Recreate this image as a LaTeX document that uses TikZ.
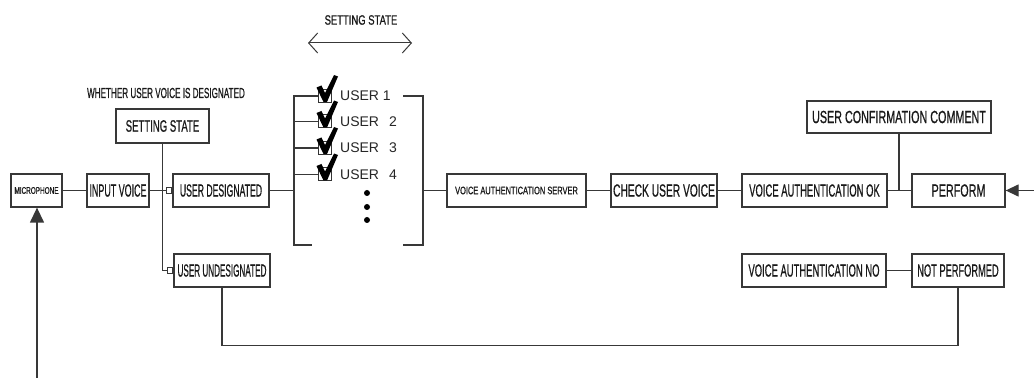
\documentclass[tikz,border=0pt]{standalone}
\usepackage{fontspec}
\setmainfont[FakeBold=0.9]{Liberation Sans}
\newfontfamily\userfont{Liberation Sans}
\usetikzlibrary{arrows.meta}

% condensed caption text: \sqz{horizontal scale}{size}{text}
\newcommand{\sqz}[3]{\scalebox{#1}[1]{\fontsize{#2}{#2}\selectfont #3}}

\begin{document}
\begin{tikzpicture}[x=1pt,y=-1pt,
  line/.style={draw=black!78, line width=1.3pt},
  blk/.style={line, fill=white, inner sep=0pt, text=black!90},
  mk/.style={draw=black!78, line width=0.9pt, fill=white, inner sep=0pt,
             minimum width=5pt, minimum height=6pt, anchor=east},
  cbox/.style={draw=black!80, line width=1pt, fill=white, inner sep=0pt,
               minimum size=13pt},
  usr/.style={anchor=west, inner sep=0pt, text=black!85,
              font=\userfont\fontsize{14}{14}\selectfont},
  dot/.style={circle, fill=black, inner sep=0pt, minimum size=6pt},
  lbl/.style={inner sep=0pt, text=black!90},
  chkmark/.pic={\fill[black] (-8,-8.5) -- (-3,-10.5) -- (0.5,-3) -- (9.5,-21)
                -- (13.5,-19.5) -- (2.5,6) -- (-1,6) -- cycle;}
]
\useasboundingbox (0,0) rectangle (1034,379);

% captions above the chart
\node[lbl] (ss) at (361,20) {\sqz{0.70}{13.5}{SETTING STATE}};
\coordinate (al) at (308,43);
\coordinate (ar) at (412,43);
\draw[draw=black!78, line width=1pt,
  {Straight Barb[length=9pt,width=20pt]}-{Straight Barb[length=9pt,width=20pt]}] (al) -- (ar);
\node[lbl] (wh) at (166,93) {\sqz{0.56}{14.5}{WHETHER USER VOICE IS DESIGNATED}};

% blocks
\node[blk, minimum width=51pt, minimum height=33pt] (mic) at (36.5,190.5) {\sqz{0.66}{9.7}{MICROPHONE}};
\node[blk, minimum width=62pt, minimum height=33pt] (inp) at (118,190.5) {\sqz{0.51}{17.5}{INPUT VOICE}};
\node[blk, minimum width=93pt, minimum height=34pt] (set) at (162.5,126) {\sqz{0.58}{16.5}{SETTING STATE}};
\node[blk, minimum width=96pt, minimum height=33pt] (des) at (221,190.5) {\sqz{0.495}{17.5}{USER DESIGNATED}};
\node[blk, minimum width=96pt, minimum height=33pt] (und) at (222,270.5) {\sqz{0.465}{17.5}{USER UNDESIGNATED}};
\node[blk, minimum width=139pt, minimum height=33pt] (srv) at (516.5,190.5) {\sqz{0.69}{10.8}{VOICE AUTHENTICATION SERVER}};
\node[blk, minimum width=106pt, minimum height=33pt] (chk) at (664,190.5) {\sqz{0.585}{17.5}{CHECK USER VOICE}};
\node[blk, minimum width=145pt, minimum height=33pt] (ok) at (814.5,190.5) {\sqz{0.54}{17.5}{VOICE AUTHENTICATION OK}};
\node[blk, minimum width=93pt, minimum height=33pt] (perf) at (958.5,190.5) {\sqz{0.615}{17.5}{PERFORM}};
\node[blk, minimum width=184pt, minimum height=32pt] (conf) at (899,117) {\sqz{0.615}{17.5}{USER CONFIRMATION COMMENT}};
\node[blk, minimum width=144pt, minimum height=33pt] (no) at (814,270.5) {\sqz{0.54}{17.5}{VOICE AUTHENTICATION NO}};
\node[blk, minimum width=92pt, minimum height=33pt] (np) at (958,270.5) {\sqz{0.53}{17.5}{NOT PERFORMED}};

% small input terminals
\node[mk] (dm) at (des.west) {};
\node[mk] (um) at (und.west) {};

% user list with check boxes
\node[cbox] (cb1) at (324.5,96) {};
\node[cbox] (cb2) at (324.5,121.5) {};
\node[cbox] (cb3) at (324.5,148) {};
\node[cbox] (cb4) at (324.5,174.5) {};
\pic at (cb1.center) {chkmark};
\pic at (cb2.center) {chkmark};
\pic at (cb3.center) {chkmark};
\pic at (cb4.center) {chkmark};
\node[usr] (u1) at (340,96) {USER 1};
\node[usr] (u2) at (340,121.5) {USER\ \ \,2};
\node[usr] (u3) at (340,148) {USER\ \ \,3};
\node[usr] (u4) at (340,174.5) {USER\ \ \,4};
\node[dot] (d1) at (367,193) {};
\node[dot] (d2) at (367,207) {};
\node[dot] (d3) at (367,220) {};

% bracket corners
\coordinate (lt) at (294,96);
\coordinate (lb) at (294,245);
\coordinate (rt) at (423,96);
\coordinate (rb) at (423,245);

% connectors
\draw[line] (mic) -- (inp);
\draw[line] (inp) -- (dm);
\draw[line] (set.south) -- (set.south |- um.west) -- (um);
\draw[line] (des) -- (des.east -| lt);
\draw[line] (cb1.west) -- (lt) -- (lb) -- ++(18,0);
\draw[line] (cb2.west) -- (cb2.west -| lt);
\draw[line] (cb3.west) -- (cb3.west -| lt);
\draw[line] (cb4.west) -- (cb4.west -| lt);
\draw[line] ([xshift=-20pt]rt) -- (rt) -- (rb) -- ++(-20,0);
\draw[line] (srv.west -| rt) -- (srv);
\draw[line] (srv) -- (chk);
\draw[line] (chk) -- (ok);
\draw[line] (ok) -- (perf);
\draw[line] (conf.south) -- (conf.south |- ok.east);
\coordinate (inR) at (1034,190.5);
\draw[line, -{Triangle[length=13pt,width=12pt]}] (inR) -- (perf.east);
\draw[line] (no) -- (np);
\draw[line] (np.south) -- ++(0,58) -| (und.south);
\coordinate (micin) at (37,378);
\draw[line, -{Triangle[length=15pt,width=14pt]}] (micin) -- (micin |- mic.south);
\end{tikzpicture}
\end{document}
